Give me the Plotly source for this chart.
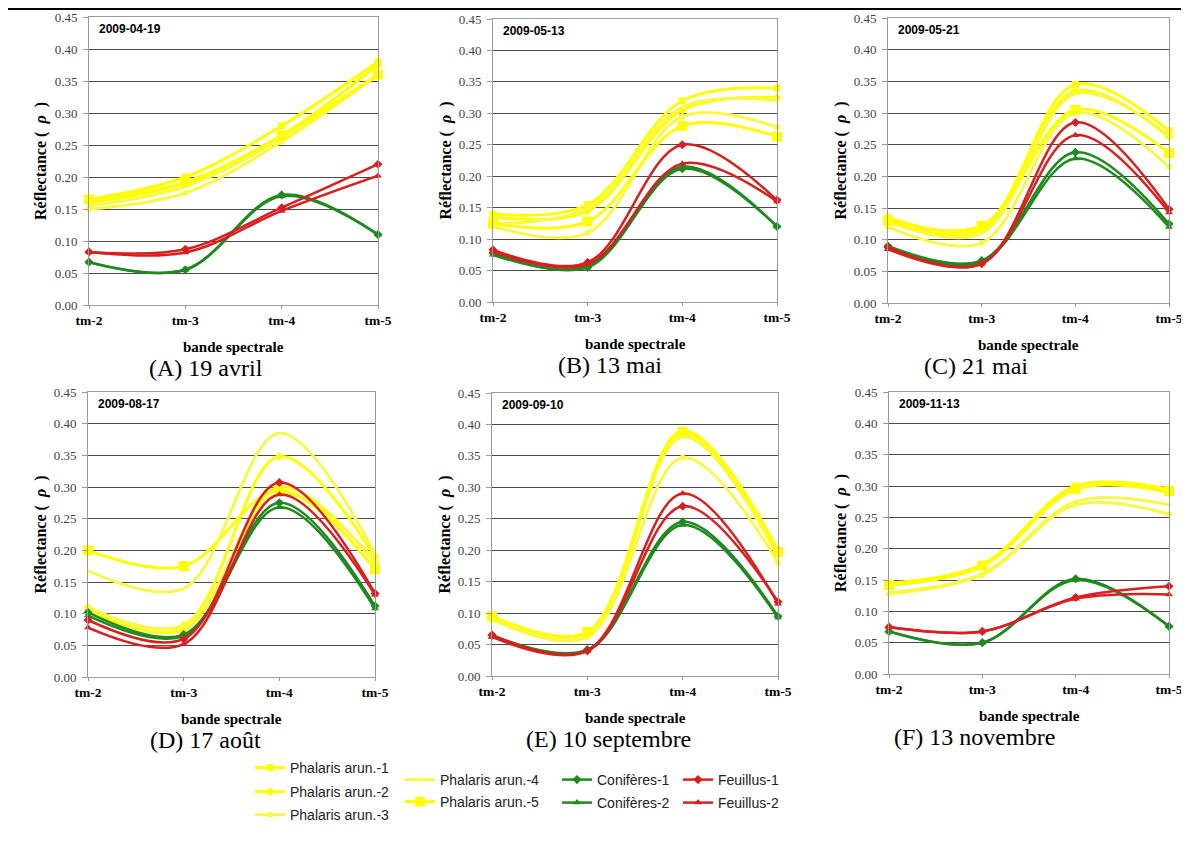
import plotly.graph_objects as go

# the page places the figure 8px from the window's top-left corner
OFF = 8
W, H = 1189 - OFF, 846 - OFF

# ---------------- data ----------------
BANDS = ["tm-2", "tm-3", "tm-4", "tm-5"]
DATES = ["2009-04-19", "2009-05-13", "2009-05-21", "2009-08-17", "2009-09-10", "2009-11-13"]
CAPTIONS = ["(A) 19 avril", "(B) 13 mai", "(C) 21 mai", "(D) 17 août", "(E) 10 septembre", "(F) 13 novembre"]
Y_TICKS = [0.00, 0.05, 0.10, 0.15, 0.20, 0.25, 0.30, 0.35, 0.40, 0.45]

# one list of 4 band values per panel (A..F)
PHALARIS_1 = [[0.165, 0.200, 0.280, 0.380], [0.140, 0.155, 0.320, 0.340], [0.135, 0.120, 0.345, 0.272],
              [0.105, 0.075, 0.300, 0.180], [0.095, 0.070, 0.390, 0.200], [0.145, 0.175, 0.300, 0.295]]
PHALARIS_2 = [[0.160, 0.190, 0.265, 0.375], [0.135, 0.145, 0.305, 0.325], [0.130, 0.115, 0.335, 0.262],
              [0.110, 0.082, 0.348, 0.190], [0.093, 0.068, 0.385, 0.195], [0.142, 0.172, 0.295, 0.290]]
PHALARIS_3 = [[0.150, 0.175, 0.255, 0.360], [0.120, 0.110, 0.295, 0.278], [0.120, 0.095, 0.300, 0.215],
              [0.110, 0.080, 0.290, 0.185], [0.090, 0.062, 0.347, 0.180], [0.128, 0.158, 0.270, 0.255]]
PHALARIS_4 = [[0.155, 0.185, 0.260, 0.360], [0.125, 0.150, 0.310, 0.320], [0.128, 0.110, 0.330, 0.265],
              [0.168, 0.140, 0.385, 0.195], [0.092, 0.065, 0.380, 0.190], [0.130, 0.160, 0.275, 0.270]]
PHALARIS_5 = [[0.165, 0.192, 0.265, 0.360], [0.125, 0.128, 0.280, 0.263], [0.130, 0.122, 0.305, 0.237],
              [0.200, 0.175, 0.295, 0.170], [0.095, 0.070, 0.388, 0.197], [0.142, 0.173, 0.295, 0.292]]
CONIFERES_1 = [[0.067, 0.055, 0.172, 0.110], [0.078, 0.055, 0.212, 0.120], [0.090, 0.067, 0.238, 0.125],
               [0.102, 0.067, 0.275, 0.112], [0.065, 0.042, 0.245, 0.095], [0.068, 0.050, 0.152, 0.076]]
CONIFERES_2 = [[0.067, 0.055, 0.170, 0.110], [0.075, 0.057, 0.215, 0.120], [0.085, 0.065, 0.228, 0.120],
               [0.097, 0.065, 0.268, 0.108], [0.063, 0.040, 0.240, 0.093], [0.068, 0.050, 0.150, 0.076]]
FEUILLUS_1 = [[0.083, 0.087, 0.152, 0.220], [0.083, 0.063, 0.250, 0.162], [0.088, 0.062, 0.285, 0.148],
              [0.090, 0.060, 0.307, 0.132], [0.065, 0.040, 0.270, 0.118], [0.075, 0.068, 0.122, 0.140]]
FEUILLUS_2 = [[0.083, 0.082, 0.147, 0.202], [0.080, 0.060, 0.220, 0.160], [0.085, 0.062, 0.265, 0.143],
              [0.078, 0.052, 0.288, 0.130], [0.062, 0.040, 0.290, 0.115], [0.075, 0.068, 0.120, 0.127]]

SERIES_NAMES = ["Phalaris arun.-1", "Phalaris arun.-2", "Phalaris arun.-3", "Phalaris arun.-4",
                "Phalaris arun.-5", "Conifères-1", "Conifères-2", "Feuillus-1", "Feuillus-2"]
SERIES_VALUES = [PHALARIS_1, PHALARIS_2, PHALARIS_3, PHALARIS_4, PHALARIS_5,
                 CONIFERES_1, CONIFERES_2, FEUILLUS_1, FEUILLUS_2]

# ---------------- styles / layout ----------------
YEL, YEL2, GRN, RED = "#FFFF00", "#F8F84C", "#1F8A1F", "#D82020"
STYLES = [
    dict(color=YEL, width=3, symbol="square", size=7),
    dict(color=YEL, width=3, symbol="diamond", size=7),
    dict(color=YEL2, width=3, symbol="circle", size=6),
    dict(color=YEL2, width=3, symbol=None, size=0),
    dict(color=YEL, width=3, symbol="square", size=10),
    dict(color=GRN, width=2.5, symbol="diamond", size=7),
    dict(color=GRN, width=2.5, symbol="triangle-up", size=7),
    dict(color=RED, width=2.5, symbol="diamond", size=7),
    dict(color=RED, width=2.5, symbol="triangle-up", size=7),
]
# legend placement (screen px): left x, centre y
LEGEND_POS = [(250, 768), (250, 792), (250, 815), (400, 780), (400, 802),
              (557, 780), (557, 803), (678, 780), (678, 803)]

# plot areas in screen px: left, right, top, bottom
PANELS = [(89, 378, 17, 305), (493, 777, 19, 302), (888, 1169, 18, 303),
          (88, 375, 392, 677), (492, 778, 393, 676), (889, 1169, 392, 674)]
CAPTION_X = [206, 610, 976, 205, 608, 975]

SERIF = "Liberation Serif, Times New Roman, serif"
SANS = "Liberation Sans, Arial, sans-serif"

def px_x(v):
    return (v - OFF) / W

def px_y(v):
    return 1 - (v - OFF) / H

def ax_id(letter, i):
    return letter if i == 1 else f"{letter}{i}"

fig = go.Figure()

for p in range(6):
    i = p + 1
    for s, (name, vals) in enumerate(zip(SERIES_NAMES, SERIES_VALUES)):
        st = STYLES[s]
        leg = "legend" if s == 0 else f"legend{s + 1}"
        fig.add_trace(go.Scatter(
            x=BANDS, y=vals[p], name=name,
            mode="lines+markers" if st["symbol"] else "lines",
            line=dict(color=st["color"], width=st["width"], shape="spline", smoothing=1.0),
            marker=dict(symbol=st["symbol"] or "circle", size=st["size"], color=st["color"]),
            xaxis=ax_id("x", i), yaxis=ax_id("y", i),
            showlegend=(p == 0), legend=leg, cliponaxis=False, hoverinfo="skip",
        ))

layout = dict(
    width=W, height=H, margin=dict(l=0, r=0, t=0, b=0, autoexpand=False),
    paper_bgcolor="white", plot_bgcolor="white",
    shapes=[dict(type="line", xref="paper", yref="paper", x0=0, x1=1, y0=px_y(8.5), y1=px_y(8.5),
                 line=dict(color="black", width=3))],
    annotations=[],
)

for p, (l, r, t, b) in enumerate(PANELS):
    i = p + 1
    xa = "xaxis" if i == 1 else f"xaxis{i}"
    ya = "yaxis" if i == 1 else f"yaxis{i}"
    layout[xa] = dict(
        domain=[px_x(l), px_x(r)], anchor=ax_id("y", i), type="category", range=[0, 3],
        automargin=False,
        showgrid=False, showline=True, linecolor="#9A9A9A", linewidth=1, mirror=True,
        ticks="outside", ticklen=3, tickcolor="#9A9A9A",
        tickfont=dict(family=SERIF, size=13.5, color="black"),
        tickvals=BANDS, ticktext=[f"<b>{b_}</b>" for b_ in BANDS], fixedrange=True,
    )
    layout[ya] = dict(
        domain=[px_y(b), px_y(t)], anchor=ax_id("x", i), range=[0, 0.45],
        automargin=False,
        tickvals=Y_TICKS, ticktext=[f"{v:.2f}" for v in Y_TICKS],
        showgrid=True, gridcolor="#4A4A4A", gridwidth=1, zeroline=False,
        showline=True, linecolor="#9A9A9A", linewidth=1, mirror=True,
        ticks="outside", ticklen=5, tickcolor="#9A9A9A", ticklabelstandoff=3,
        tickfont=dict(family=SERIF, size=13, color="#444444"), fixedrange=True,
    )
    xd = ax_id("x", i) + " domain"
    yd = ax_id("y", i) + " domain"
    # date label
    layout["annotations"].append(dict(
        text=f"<b>{DATES[p]}</b>", xref=xd, yref=yd,
        x=0, y=1, xshift=8, yshift=-12, xanchor="left", yanchor="middle", showarrow=False,
        font=dict(family=SANS, size=12, color="black")))
    # y-axis title
    layout["annotations"].append(dict(
        text="<b>Réflectance (  <i>ρ</i>  )</b>", xref=xd, yref=yd,
        x=0, y=0.5, xshift=-48, textangle=-90, xanchor="center", yanchor="middle", showarrow=False,
        font=dict(family=SERIF, size=16, color="black")))
    # x-axis title
    layout["annotations"].append(dict(
        text="<b>bande spectrale</b>", xref="paper", yref="paper",
        x=px_x((l + r) / 2), y=px_y(b + 42), xanchor="center", yanchor="middle", showarrow=False,
        font=dict(family=SERIF, size=15, color="black")))
    # caption
    layout["annotations"].append(dict(
        text=CAPTIONS[p], xref="paper", yref="paper",
        x=px_x(CAPTION_X[p]), y=px_y(b + 63), xanchor="center", yanchor="middle", showarrow=False,
        font=dict(family=SERIF, size=24, color="black")))

for s, (lx, ly) in enumerate(LEGEND_POS):
    key = "legend" if s == 0 else f"legend{s + 1}"
    layout[key] = dict(
        x=px_x(lx), y=px_y(ly), xanchor="left", yanchor="middle",
        bgcolor="rgba(0,0,0,0)", borderwidth=0,
        font=dict(family=SANS, size=14, color="#222222"),
    )

fig.update_layout(**layout)
fig.write_html("out.html")
